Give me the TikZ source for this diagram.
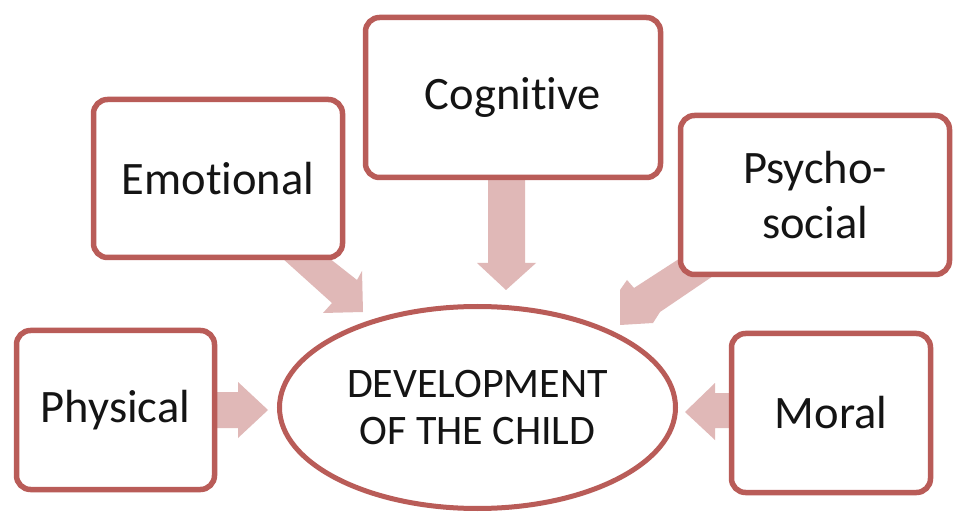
\documentclass[tikz,border=0pt]{standalone}
\usepackage{fontspec}
\setmainfont{Carlito}[Ligatures={NoCommon}]
\usetikzlibrary{backgrounds,shapes.geometric}
\definecolor{boxline}{RGB}{185,92,88}
\definecolor{arrowfill}{RGB}{224,184,183}
\definecolor{txt}{RGB}{20,20,20}
\tikzset{
  areabox/.style={draw=boxline, line width=5.5pt, rounded corners=14pt, fill=white,
    inner sep=0pt, align=center, text=txt, font=\fontsize{46.5}{55}\selectfont},
  centre/.style={draw=boxline, line width=5pt, ellipse, fill=white, inner sep=0pt,
    align=center, text=txt, font=\fontsize{42}{47}\selectfont},
  blockarrow/.style={fill=arrowfill, draw=none}
}
\begin{document}
\begin{tikzpicture}[x=1pt,y=-1pt]
\useasboundingbox (0,0) rectangle (954,513);
% nodes
\node[areabox, minimum width=198pt, minimum height=159pt] (phys) at (115.5,410) {Physical};
\node[areabox, minimum width=249pt, minimum height=158pt] (emo) at (218,178.5) {Emotional};
\node[areabox, minimum width=295pt, minimum height=160pt] (cog) at (513,97.5) {Cognitive};
\node[areabox, minimum width=269pt, minimum height=159pt] (psy) at (815,195) {Psycho-\\social};
\node[areabox, minimum width=199pt, minimum height=159pt] (moral) at (831,413) {Moral};
\node[centre, minimum width=396pt, minimum height=202pt] (dev) at (477.5,407.5) {DEVELOPMENT\\OF THE CHILD};
% block arrows
\begin{scope}[on background layer]
\fill[white] (0,0) rectangle (954,513);
\fill[blockarrow] (214,392) -- (238,392) -- (238,382) -- (268,410) -- (238,438) -- (238,428) -- (214,428) -- cycle;
\fill[blockarrow] (488,176) -- (525,176) -- (525,263) -- (536,263) -- (506,290) -- (477,263) -- (488,263) -- cycle;
\fill[blockarrow] (733,393) -- (715,393) -- (715,383) -- (685,412) -- (715,440) -- (715,428) -- (733,428) -- cycle;
\fill[blockarrow] (282,258) -- (329,258) -- (357,280) -- (362,271) -- (363,312) -- (323,313) -- (332,303) -- cycle;
\fill[blockarrow] (685,255) -- (716,274) -- (660,312) -- (653,323) -- (620,325) -- (620,290) -- (627,280) -- (634,288) -- cycle;
\end{scope}
\end{tikzpicture}
\end{document}
